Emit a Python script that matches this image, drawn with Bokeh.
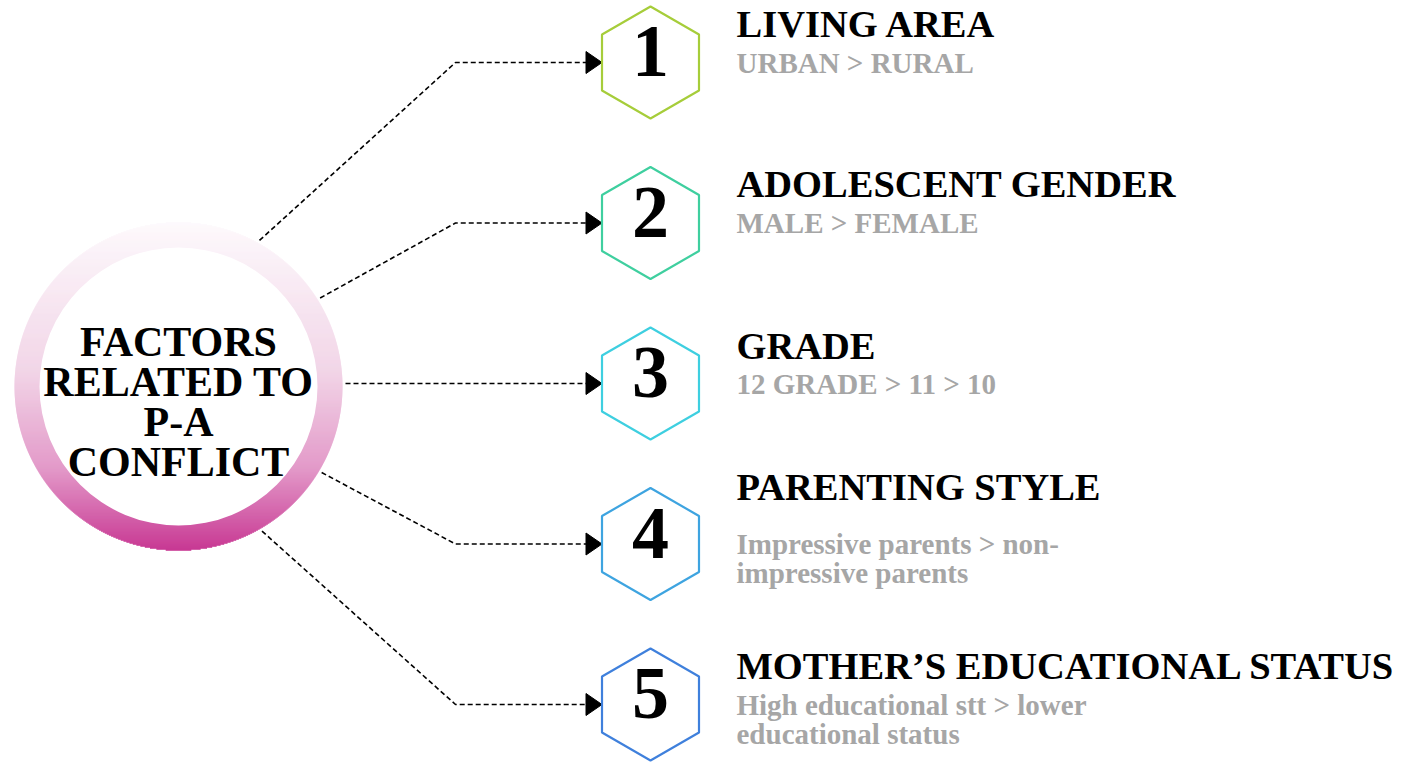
import numpy as np
from bokeh.plotting import figure
from bokeh.models import Range1d
from bokeh.core.properties import value
from bokeh.embed import file_html
from bokeh.resources import INLINE

# ---- data ----
center_lines = ["FACTORS", "RELATED TO", "P-A", "CONFLICT"]
numbers = ["1", "2", "3", "4", "5"]
titles = ["LIVING AREA", "ADOLESCENT GENDER", "GRADE", "PARENTING STYLE",
          "MOTHER\u2019S EDUCATIONAL STATUS"]
subtitles = ["URBAN > RURAL", "MALE > FEMALE", "12 GRADE > 11 > 10",
             "Impressive parents > non-\nimpressive parents",
             "High educational stt > lower\neducational status"]
hex_colors = ["#a6cd3a", "#3fcf9f", "#3ecfe0", "#3ea4e0", "#3f80dc"]

# ---- layout (pixels) ----
W, H = 1412, 762
FONT = value("Liberation Serif")
cx, cy, R_out, R_in = 178, 386, 164, 139
hex_x, hex_r = 650, 56
hex_y0, hex_step = 62, 160.5
conn_angles = [-61, -32, 0, 31, 60]
bend_x = 455
title_dy = [-24, -24, -23, -42, -24]

p = figure(width=W, height=H, output_backend="svg", toolbar_location=None,
           x_range=Range1d(0, W), y_range=Range1d(H, 0),
           min_border=0, outline_line_color=None, background_fill_color="white",
           border_fill_color="white")
p.axis.visible = False
p.grid.visible = False

# ---- gradient ring ----
def lerp(c1, c2, t):
    a = np.array([int(c1[i:i + 2], 16) for i in (1, 3, 5)])
    b = np.array([int(c2[i:i + 2], 16) for i in (1, 3, 5)])
    c = (a + (b - a) * t).round().astype(int)
    return "#%02x%02x%02x" % tuple(c)

stops = [(0.0, "#fdf9fc"), (0.45, "#f1d3e6"), (0.75, "#e193c5"), (1.0, "#c42b8c")]
def grad(t):
    for (t0, c0), (t1, c1) in zip(stops[:-1], stops[1:]):
        if t <= t1:
            return lerp(c0, c1, (t - t0) / (t1 - t0))
    return stops[-1][1]

ys = np.arange(cy - R_out + 0.5, cy + R_out, 1.0)
half = np.sqrt(np.clip(R_out ** 2 - (ys - cy) ** 2, 0, None))
cols = [grad((y - (cy - R_out)) / (2 * R_out)) for y in ys]
p.quad(left=cx - half, right=cx + half, bottom=ys - 0.7, top=ys + 0.7,
       fill_color=cols, line_color=None)
p.ellipse(x=cx, y=cy, width=2 * R_in, height=2 * R_in, fill_color="white",
          line_color=None)

for i, t in enumerate(center_lines):
    p.text(x=[cx], y=[358 - 17 + 40 * i], text=[t], text_align="center",
           text_baseline="alphabetic", text_font=FONT, text_font_style="bold",
           text_font_size="42px", text_color="black")

# ---- connectors, hexagons, labels ----
for i in range(len(numbers)):
    hy = hex_y0 + i * hex_step
    a = np.deg2rad(conn_angles[i])
    sx, sy = cx + 167 * np.cos(a), cy + 167 * np.sin(a)
    tip = hex_x - hex_r * np.sqrt(3) / 2
    if conn_angles[i] == 0:
        xs, yl = [sx, tip - 14], [hy, hy]
    else:
        xs, yl = [sx, bend_x, tip - 14], [sy, hy, hy]
    p.line(xs, yl, line_color="black", line_width=1.6, line_dash="5 3")
    p.patch([tip - 16, tip, tip - 16], [hy - 11, hy, hy + 11],
            fill_color="black", line_color="black", line_width=1)

    ang = np.deg2rad(90 + 60 * np.arange(6))
    p.patch(hex_x + hex_r * np.cos(ang), hy - hex_r * np.sin(ang),
            fill_color="white", line_color=hex_colors[i], line_width=2.2)
    p.text(x=[hex_x], y=[hy + 14 - 25], text=[numbers[i]], text_align="center",
           text_baseline="alphabetic", text_font=FONT, text_font_style="bold",
           text_font_size="74px", text_color="black")
    p.text(x=[736], y=[hy + title_dy[i] - 15], text=[titles[i]], text_align="left",
           text_baseline="alphabetic", text_font=FONT, text_font_style="bold",
           text_font_size="38.5px", text_color="black")
    for j, line in enumerate(subtitles[i].split("\n")):
        p.text(x=[736], y=[hy + 11 - 11 + 29 * j], text=[line], text_align="left",
               text_baseline="alphabetic", text_font=FONT, text_font_style="bold",
               text_font_size="29px", text_color="#a6a6a6")

open("out.html", "w").write(file_html(p, INLINE))
